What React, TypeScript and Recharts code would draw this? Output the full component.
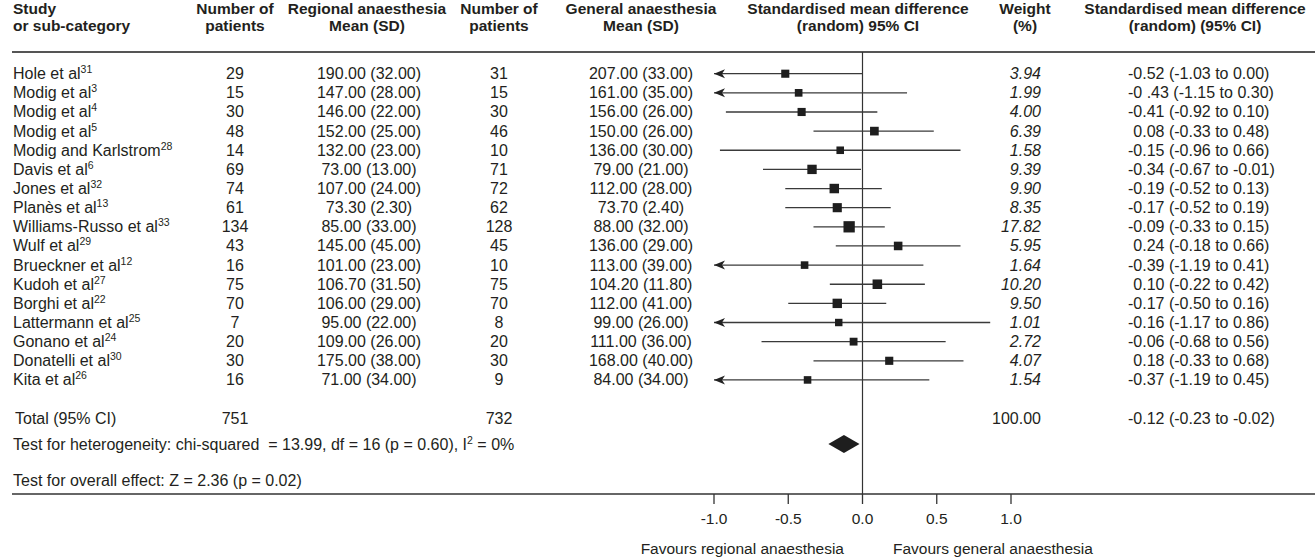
import { ComposedChart, Scatter, XAxis, YAxis, ReferenceLine } from "recharts"

const studies = [
  "Hole et al", "Modig et al", "Modig et al", "Modig et al", "Modig and Karlstrom", "Davis et al",
  "Jones et al", "Planès et al", "Williams-Russo et al", "Wulf et al", "Brueckner et al", "Kudoh et al",
  "Borghi et al", "Lattermann et al", "Gonano et al", "Donatelli et al", "Kita et al",
]
const refs = ["31", "3", "4", "5", "28", "6", "32", "13", "33", "29", "12", "27", "22", "25", "24", "30", "26"]
const nRegional = [29, 15, 30, 48, 14, 69, 74, 61, 134, 43, 16, 75, 70, 7, 20, 30, 16]
const meanRegional = [
  "190.00 (32.00)", "147.00 (28.00)", "146.00 (22.00)", "152.00 (25.00)", "132.00 (23.00)", "73.00 (13.00)",
  "107.00 (24.00)", "73.30 (2.30)", "85.00 (33.00)", "145.00 (45.00)", "101.00 (23.00)", "106.70 (31.50)",
  "106.00 (29.00)", "95.00 (22.00)", "109.00 (26.00)", "175.00 (38.00)", "71.00 (34.00)",
]
const nGeneral = [31, 15, 30, 46, 10, 71, 72, 62, 128, 45, 10, 75, 70, 8, 20, 30, 9]
const meanGeneral = [
  "207.00 (33.00)", "161.00 (35.00)", "156.00 (26.00)", "150.00 (26.00)", "136.00 (30.00)", "79.00 (21.00)",
  "112.00 (28.00)", "73.70 (2.40)", "88.00 (32.00)", "136.00 (29.00)", "113.00 (39.00)", "104.20 (11.80)",
  "112.00 (41.00)", "99.00 (26.00)", "111.00 (36.00)", "168.00 (40.00)", "84.00 (34.00)",
]
const weights = [3.94, 1.99, 4.0, 6.39, 1.58, 9.39, 9.9, 8.35, 17.82, 5.95, 1.64, 10.2, 9.5, 1.01, 2.72, 4.07, 1.54]
const smd = [-0.52, -0.43, -0.41, 0.08, -0.15, -0.34, -0.19, -0.17, -0.09, 0.24, -0.39, 0.1, -0.17, -0.16, -0.06, 0.18, -0.37]
const ciLow = [-1.03, -1.15, -0.92, -0.33, -0.96, -0.67, -0.52, -0.52, -0.33, -0.18, -1.19, -0.22, -0.5, -1.17, -0.68, -0.33, -1.19]
const ciHigh = [0.0, 0.3, 0.1, 0.48, 0.66, -0.01, 0.13, 0.19, 0.15, 0.66, 0.41, 0.42, 0.16, 0.86, 0.56, 0.68, 0.45]
const ciLabels = [
  "-0.52 (-1.03 to 0.00)", "-0 .43 (-1.15 to 0.30)", "-0.41 (-0.92 to 0.10)", "0.08 (-0.33 to 0.48)",
  "-0.15 (-0.96 to 0.66)", "-0.34 (-0.67 to -0.01)", "-0.19 (-0.52 to 0.13)", "-0.17 (-0.52 to 0.19)",
  "-0.09 (-0.33 to 0.15)", "0.24 (-0.18 to 0.66)", "-0.39 (-1.19 to 0.41)", "0.10 (-0.22 to 0.42)",
  "-0.17 (-0.50 to 0.16)", "-0.16 (-1.17 to 0.86)", "-0.06 (-0.68 to 0.56)", "0.18 (-0.33 to 0.68)",
  "-0.37 (-1.19 to 0.45)",
]

const totalRegional = 751
const totalGeneral = 732
const totalWeight = "100.00"
const pooled = -0.12
const pooledLow = -0.23
const pooledHigh = -0.02
const pooledLabel = "-0.12 (-0.23 to -0.02)"
const xTicks = [-1, -0.5, 0, 0.5, 1]

// row slots on the y axis
const ROW_TOTAL = 18
const ROW_HET = 19.35
const ROW_OVERALL = 21.25
const Y_TOP = -1.134
const Y_BOTTOM = 21.96

const FONT = "'Liberation Sans', Arial, sans-serif"
const FS = 16
const HFS = 15.5
const INK = "#231f20"

const points = smd.map((v, i) => ({ x: v, y: i, w: weights[i] }))
const rowTicks = [...studies.map((_, i) => i), ROW_TOTAL, ROW_HET, ROW_OVERALL]

const COL = { name: 13, n1: 235, m1: 369, n2: 499, m2: 641, weight: 1041, ci: 1128 }

function Sup({ children }: { children: string }) {
  return (
    <tspan fontSize={10.5} dy={-6}>
      {children}
    </tspan>
  )
}

function RowTick(props: any) {
  const v = props.payload?.value
  const base = props.y + 5.5
  const common = { fontFamily: FONT, fontSize: FS, fill: INK, style: { whiteSpace: "pre" as const } }
  if (v === ROW_TOTAL) {
    return (
      <g>
        <text {...common} x={15} y={base}>Total (95% CI)</text>
        <text {...common} x={COL.n1} y={base} textAnchor="middle">{totalRegional}</text>
        <text {...common} x={COL.n2} y={base} textAnchor="middle">{totalGeneral}</text>
        <text {...common} x={COL.weight} y={base} textAnchor="end">{totalWeight}</text>
        <text {...common} x={COL.ci} y={base}>{pooledLabel}</text>
      </g>
    )
  }
  if (v === ROW_HET) {
    return (
      <text {...common} x={COL.name} y={base}>
        {"Test for heterogeneity: chi-squared  = 13.99, df = 16 (p = 0.60), I"}
        <tspan fontSize={10.5} dy={-6}>2</tspan>
        <tspan dy={6}>{" = 0%"}</tspan>
      </text>
    )
  }
  if (v === ROW_OVERALL) {
    return (
      <text {...common} x={COL.name} y={base}>
        Test for overall effect: Z = 2.36 (p = 0.02)
      </text>
    )
  }
  const i = Number(v)
  if (!(i >= 0 && i < studies.length)) return <g />
  const label = ciLabels[i]
  return (
    <g>
      <text {...common} x={COL.name} y={base}>
        {studies[i]}
        <Sup>{refs[i]}</Sup>
      </text>
      <text {...common} x={COL.n1} y={base} textAnchor="middle">{nRegional[i]}</text>
      <text {...common} x={COL.m1} y={base} textAnchor="middle">{meanRegional[i]}</text>
      <text {...common} x={COL.n2} y={base} textAnchor="middle">{nGeneral[i]}</text>
      <text {...common} x={COL.m2} y={base} textAnchor="middle">{meanGeneral[i]}</text>
      <text {...common} x={COL.weight} y={base} textAnchor="end" fontStyle="italic">{weights[i].toFixed(2)}</text>
      <text {...common} x={label.startsWith("-") ? COL.ci : COL.ci + 5.3} y={base}>{label}</text>
    </g>
  )
}

function CiLine(props: any) {
  const { x1, y1, x2, arrow } = props
  return (
    <g>
      <line x1={x1} y1={y1} x2={x2} y2={y1} stroke="#3a3a3a" strokeWidth={1.3} />
      {arrow && (
        <polygon
          points={`${x1},${y1} ${x1 + 11},${y1 - 4.5} ${x1 + 8},${y1} ${x1 + 11},${y1 + 4.5}`}
          fill="#222"
        />
      )}
    </g>
  )
}

function Square(props: any) {
  const s = 7.2 + 0.23 * props.payload.w
  return <rect x={props.cx - s / 2} y={props.cy - s / 2} width={s} height={s} fill="#1e1e1e" />
}

function Diamond(props: any) {
  const { x1, y1, x2 } = props
  const mid = (x1 + x2) / 2
  return <polygon points={`${x1},${y1} ${mid},${y1 - 9} ${x2},${y1} ${mid},${y1 + 9}`} fill="#1e1e1e" />
}

function Rule(props: any) {
  return <line x1={12} x2={1315} y1={props.y1} y2={props.y1} stroke={props.color} strokeWidth={props.sw} />
}

function Header() {
  const h = { fontFamily: FONT, fontSize: HFS, fontWeight: 700, fill: INK }
  const cols: [number, string, string, "start" | "middle"][] = [
    [13, "Study", "or sub-category", "start"],
    [235, "Number of", "patients", "middle"],
    [367, "Regional anaesthesia", "Mean (SD)", "middle"],
    [499, "Number of", "patients", "middle"],
    [641, "General anaesthesia", "Mean (SD)", "middle"],
    [858, "Standardised mean difference", "(random) 95% CI", "middle"],
    [1025, "Weight", "(%)", "middle"],
    [1195, "Standardised mean difference", "(random) (95% CI)", "middle"],
  ]
  return (
    <svg width={1315} height={559} style={{ position: "absolute", left: 0, top: 0, pointerEvents: "none" }}>
      {cols.map(([x, a, b, anchor], k) => (
        <g key={k}>
          <text {...h} x={x} y={14} textAnchor={anchor}>{a}</text>
          <text {...h} x={x} y={31} textAnchor={anchor}>{b}</text>
        </g>
      ))}
      <text fontFamily={FONT} fontSize={HFS} fill={INK} x={844} y={553.5} textAnchor="end">
        Favours regional anaesthesia
      </text>
      <text fontFamily={FONT} fontSize={HFS} fill={INK} x={893} y={553.5}>
        Favours general anaesthesia
      </text>
    </svg>
  )
}

export default function App() {
  return (
    <div style={{ position: "absolute", left: 0, top: 0, width: 1315, height: 559, background: "#fff" }}>
      <ComposedChart width={1315} height={559} margin={{ top: 52, right: 304, bottom: 0, left: 704 }}>
        <XAxis
          type="number"
          dataKey="x"
          domain={[-1, 1]}
          allowDataOverflow
          ticks={xTicks}
          interval={0}
          tickFormatter={(v: number) => v.toFixed(1)}
          axisLine={false}
          tickLine={{ stroke: "#333", strokeWidth: 1.3 }}
          tickSize={10}
          tickMargin={9}
          height={65}
          tick={{ fontFamily: FONT, fontSize: HFS, fill: INK }}
        />
        <YAxis
          type="number"
          dataKey="y"
          domain={[Y_TOP, Y_BOTTOM]}
          allowDataOverflow
          reversed
          ticks={rowTicks}
          interval={0}
          width={10}
          axisLine={false}
          tickLine={false}
          tick={(p: any) => <RowTick {...p} />}
        />
        <ReferenceLine y={Y_TOP} ifOverflow="visible" shape={(p: any) => <Rule {...p} color="#555" sw={2} />} />
        <ReferenceLine y={Y_BOTTOM} ifOverflow="visible" shape={(p: any) => <Rule {...p} color="#333" sw={1.5} />} />
        <ReferenceLine x={0} stroke="#333" strokeWidth={1.2} ifOverflow="visible" />
        {smd.map((_, i) => (
          <ReferenceLine
            key={i}
            ifOverflow="visible"
            segment={[
              { x: Math.max(ciLow[i], -1), y: i },
              { x: ciHigh[i], y: i },
            ]}
            shape={(p: any) => <CiLine {...p} arrow={ciLow[i] < -1} />}
          />
        ))}
        <ReferenceLine
          ifOverflow="visible"
          segment={[
            { x: pooledLow, y: ROW_HET },
            { x: pooledHigh, y: ROW_HET },
          ]}
          shape={(p: any) => <Diamond {...p} est={pooled} />}
        />
        <Scatter data={points} shape={(p: any) => <Square {...p} />} isAnimationActive={false} />
      </ComposedChart>
      <Header />
    </div>
  )
}
